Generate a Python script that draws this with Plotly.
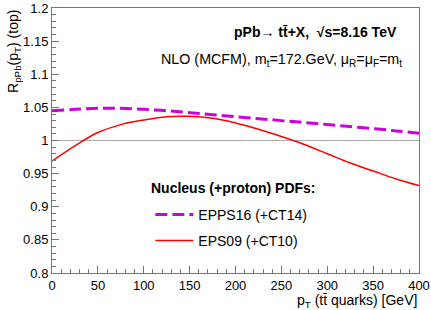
import plotly.graph_objects as go

pt = [0, 25, 50, 75, 100, 125, 150, 175, 200, 225, 250, 275, 300, 325, 350, 375, 400]
epps16 = [1.045, 1.047, 1.0485, 1.0485, 1.047, 1.045, 1.042, 1.039, 1.036, 1.033, 1.030, 1.027,
          1.024, 1.021, 1.018, 1.0145, 1.011]
eps09 = [0.969, 0.992, 1.012, 1.024, 1.031, 1.036, 1.0365, 1.0335, 1.0265, 1.017, 1.006, 0.994,
         0.980, 0.966, 0.954, 0.942, 0.932]
names = ["EPPS16 (+CT14)", "EPS09 (+CT10)"]
x_ticks = [0, 50, 100, 150, 200, 250, 300, 350, 400]
y_ticks = [0.8, 0.85, 0.9, 0.95, 1.0, 1.05, 1.1, 1.15, 1.2]
y_ticklabels = ["0.8", "0.85", "0.9", "0.95", "1", "1.05", "1.1", "1.15", "1.2"]

FONT = "Liberation Sans, Arial, sans-serif"

fig = go.Figure()
fig.add_trace(go.Scatter(x=[0, 400], y=[1, 1], mode="lines", line=dict(color="#aaaaaa", width=1),
                         showlegend=False, hoverinfo="skip"))
fig.add_trace(go.Scatter(x=pt, y=epps16, mode="lines", name=names[0], legendgroup="a",
                         line=dict(color="#cc00dd", width=3, dash="12px,5px", shape="spline")))
fig.add_trace(go.Scatter(x=pt, y=eps09, mode="lines", name=names[1], legendgroup="b",
                         line=dict(color="#ff0000", width=1.5, shape="spline")))

axis_common = dict(showline=True, linecolor="#777777", linewidth=1, mirror=True, automargin=False,
                   ticks="inside", tickcolor="#777777", ticklen=7, showgrid=False, zeroline=False,
                   tickfont=dict(family=FONT, size=13, color="black"))
fig.update_xaxes(range=[0, 400], tickvals=x_ticks,
                 minor=dict(dtick=10, ticks="inside", ticklen=4, tickcolor="#777777"), **axis_common)
fig.update_yaxes(range=[0.8, 1.2], tickvals=y_ticks, ticktext=y_ticklabels,
                 minor=dict(dtick=0.01, ticks="inside", ticklen=4, tickcolor="#777777"), **axis_common)

fig.update_layout(
    width=431, height=310,
    margin=dict(l=52, r=12, t=8, b=37, autoexpand=False),
    paper_bgcolor="white", plot_bgcolor="white",
    font=dict(family=FONT, size=14, color="black"),
    legend=dict(x=0.268, y=0.28, xanchor="left", yanchor="top", bgcolor="rgba(0,0,0,0)",
                font=dict(size=14), tracegroupgap=5, itemwidth=38),
    annotations=[
        dict(text="<b>pPb\u2192 tt\u0304+X,  \u221as=8.16 TeV</b>", xref="paper", yref="paper",
             x=0.945, y=0.91, xanchor="right", yanchor="middle", showarrow=False, font=dict(size=14)),
        dict(text="NLO (MCFM), m<sub>t</sub>=172.GeV, \u03bc<sub>R</sub>=\u03bc<sub>F</sub>=m<sub>t</sub>",
             xref="paper", yref="paper", x=0.96, y=0.805, xanchor="right", yanchor="middle",
             showarrow=False, font=dict(size=14.3)),
        dict(text="<b>Nucleus (+proton) PDFs:</b>", xref="paper", yref="paper",
             x=0.265, y=(273 - 188) / 265, xanchor="left", yanchor="middle", showarrow=False,
             font=dict(size=14)),
        dict(text="R<sub>pPb</sub>(p<sub>T</sub>) (top)", xref="paper", yref="paper",
             x=-0.105, y=1.0, xanchor="center", yanchor="top", textangle=-90, showarrow=False,
             font=dict(size=14)),
        dict(text="p<sub>T</sub> (tt\u0304 quarks) [GeV]",
             xref="paper", yref="paper",
             x=1.0, y=-0.104, xanchor="right", yanchor="middle", showarrow=False,
             font=dict(size=14)),
    ],
)

fig.write_html("out.html", config={"displayModeBar": False},
               post_script="document.body.style.margin='0';document.body.style.overflow='hidden';")
